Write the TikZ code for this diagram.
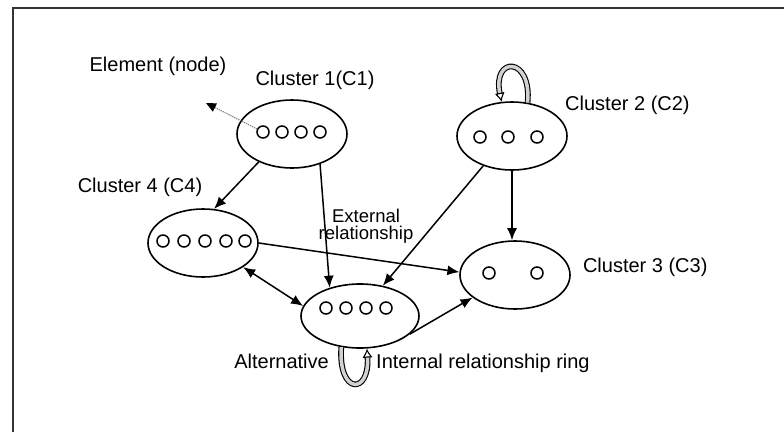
\documentclass[tikz,border=0pt]{standalone}
\usepackage{fontspec}
\setmainfont{Liberation Sans}
\usetikzlibrary{positioning,arrows.meta,shapes.geometric,calc}

\begin{document}
\begin{tikzpicture}[
    x=1pt, y=-1pt,
    font=\fontsize{20}{22}\selectfont,
    cluster/.style={draw, ellipse, line width=1.6pt, minimum width=110pt,
                    minimum height=68pt, inner sep=0pt},
    elem/.style={draw, circle, line width=1.5pt, minimum size=12pt, inner sep=0pt},
    arr/.style={-{Latex[length=12pt,width=10pt]}, line width=1.5pt},
    twoway/.style={{Latex[length=12pt,width=10pt]}-{Latex[length=12pt,width=10pt]}, line width=1.5pt},
    ring/.style={line width=1.1pt, double=gray!35, double distance=3.5pt},
    lbl/.style={inner sep=0pt},
    note/.style={font=\fontsize{18.5}{17}\selectfont, align=center, inner sep=0pt}
]
\useasboundingbox (0,0) rectangle (784,432);
\draw[line width=1.6pt, black!80] (13,432) -- (13,8) -- (784,8);

% clusters
\node[cluster] (c1) at (292,134) {};
\node[cluster] (c2) at (512,136) {};
\node[cluster] (c3) at (515,275) {};
\node[cluster] (c4) at (203,243) {};
\node[cluster, minimum width=118pt, minimum height=64pt] (c5) at (360,316) {};

% elements inside the clusters
\foreach \x [count=\i] in {263,282,301,320} \node[elem] (c1e\i) at (\x,132) {};
\foreach \x [count=\i] in {480,508,537} \node[elem] (c2e\i) at (\x,137) {};
\foreach \x [count=\i] in {489,537} \node[elem] (c3e\i) at (\x,273) {};
\foreach \x [count=\i] in {163,184,205,226,245} \node[elem] (c4e\i) at (\x,241) {};
\foreach \x [count=\i] in {326,346,366,386} \node[elem] (c5e\i) at (\x,308) {};

% labels
\node[lbl] (elemlbl) at (158,66) {Element (node)};
\node[lbl] (c1lbl) at (315,80) {Cluster 1(C1)};
\node[lbl, anchor=west] (c2lbl) at (565,105) {Cluster 2 (C2)};
\node[lbl, right=12pt of c3, yshift=8pt] (c3lbl) {Cluster 3 (C3)};
\node[lbl] (c4lbl) at (140,187) {Cluster 4 (C4)};
\node[note] (extlbl) at (366,226) {External\\relationship};
\node[lbl, anchor=east] (altlbl) at (329,361) {Alternative};
\node[lbl, anchor=west] (intlbl) at (376,363) {Internal relationship ring};

% element pointer
\coordinate (elemtip) at (206,103);
\draw[densely dotted, gray, line width=1.2pt,
      -{Triangle[length=10pt,width=9pt,color=black]}] (c1e1) -- (elemtip);

% external relationships
\draw[arr] (c1.220) -- (c4.72);
\draw[arr] (c1.-47) -- (c5.137);
\draw[arr] (c2.226) -- (c5.53);
\draw[arr] (c2.south) -- (c2.south |- c3.north);
\draw[arr] (c4.east) -- (c3.177);
\draw[arr] (c5.-20) -- (c3.208);
\draw[twoway] (c4.-31) -- (c5.170);

% internal relationship rings
\draw[ring, {Latex[length=9pt,width=10pt,open]}-] (c2.107) .. controls (492,56) and (532,56) .. (c2.65);
\draw[ring, -{Latex[length=9pt,width=10pt,open]}] (c5.239) .. controls (338,395) and (370,395) .. (c5.282);

\end{tikzpicture}
\end{document}
